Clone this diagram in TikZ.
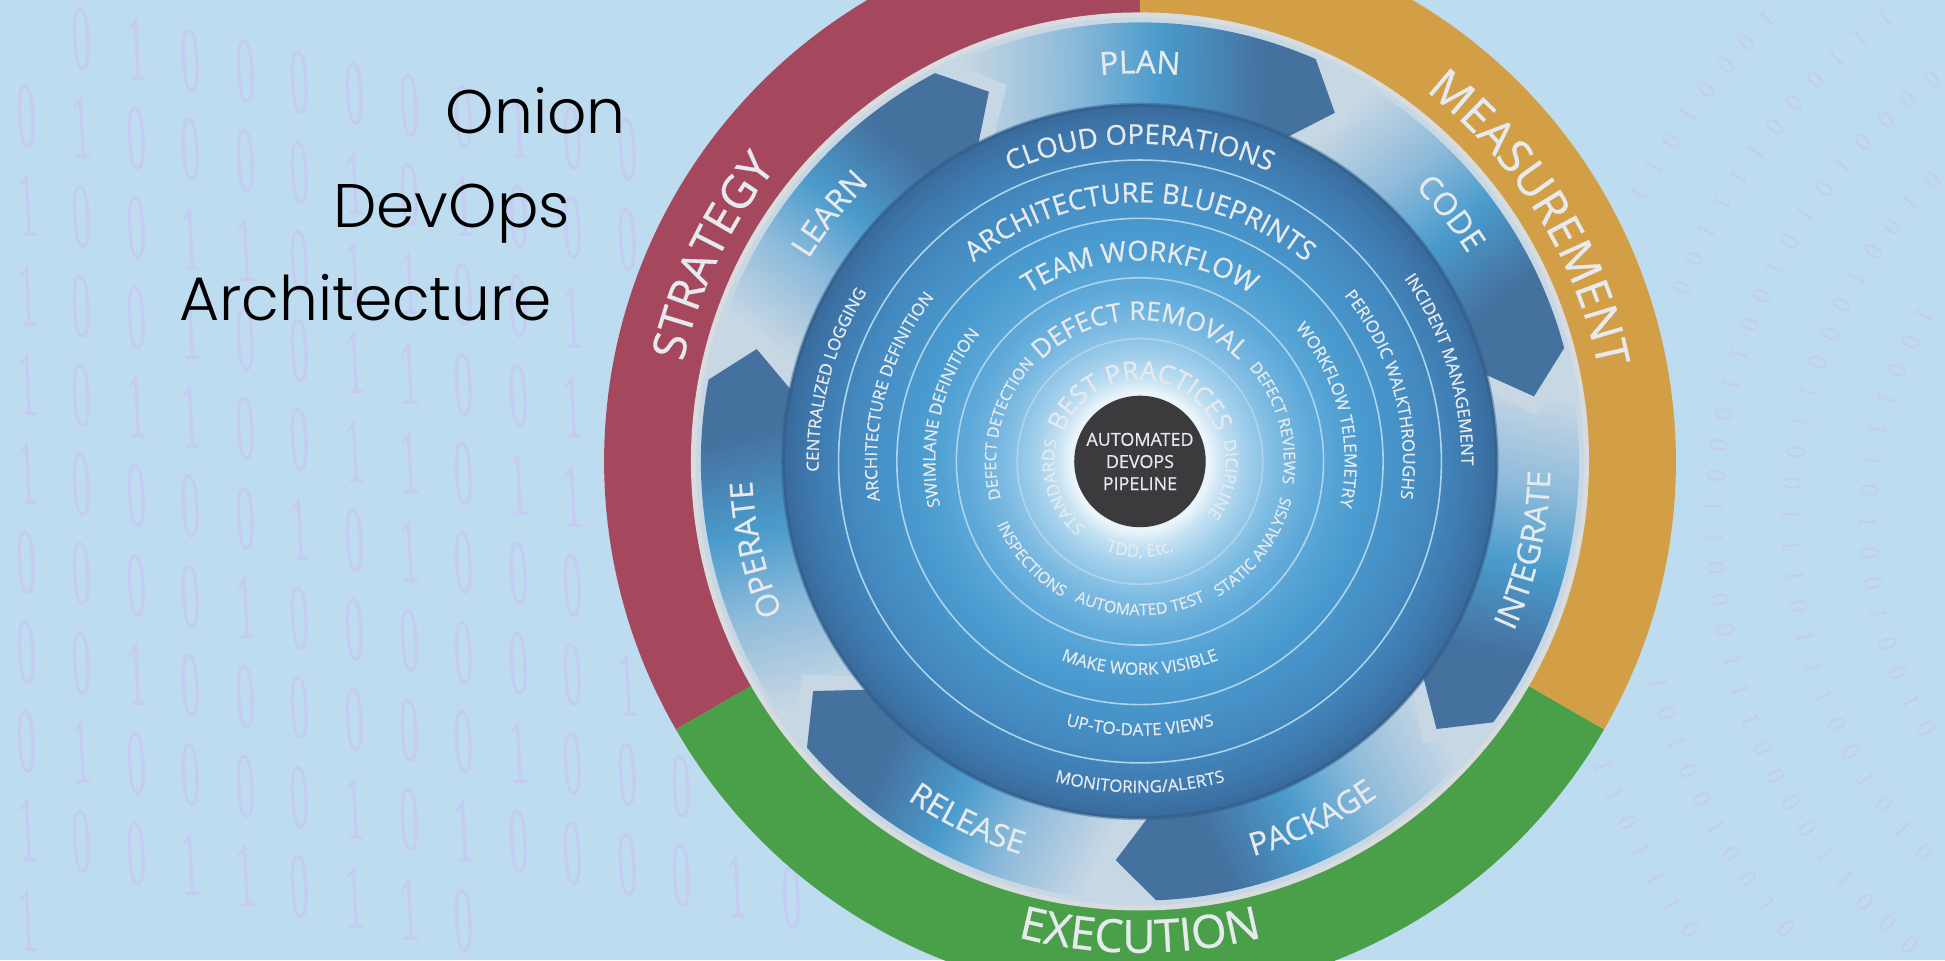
\documentclass[tikz,border=0pt]{standalone}
\usepackage{fontspec}
\setmainfont{Open Sans}
\newfontfamily\lblfont{Open Sans}[FakeBold=0.7]
\newfontfamily\titlefont{Poppins Light}
\newfontfamily\binfont{Liberation Serif}
\usetikzlibrary{decorations.text}

% palette
\definecolor{bgblue}{HTML}{BEDCF0}
\definecolor{digit}{HTML}{C6CBF2}
\definecolor{strat}{HTML}{A5485E}
\definecolor{meas}{HTML}{D29F47}
\definecolor{execgreen}{HTML}{4A9F49}
\definecolor{ringgray}{HTML}{D9DCDF}
\definecolor{annulus}{HTML}{C8D7E4}
\definecolor{labelwhite}{HTML}{E6EAEE}
\definecolor{core}{HTML}{3B3B3D}
\definecolor{arrowpale}{HTML}{C9D8E5}
\definecolor{arrowlight}{HTML}{8EBBDA}
\definecolor{arrowmid}{HTML}{4A9BCC}
\definecolor{arrowdark}{HTML}{45719F}
\definecolor{ringline}{HTML}{AFD4EC}
\definecolor{disk0}{HTML}{F7FBFE}
\definecolor{disk1}{HTML}{EAF4FA}
\definecolor{disk2}{HTML}{C3E1F3}
\definecolor{disk3}{HTML}{A2CFEB}
\definecolor{disk4}{HTML}{7DBBE2}
\definecolor{disk5}{HTML}{5EA9D9}
\definecolor{disk6}{HTML}{4A9BCF}
\definecolor{disk7}{HTML}{448AC1}
\definecolor{disk8}{HTML}{3E79AE}
\definecolor{disk9}{HTML}{396A9B}

% arrow body: pale tail -> bright middle -> dark head
\pgfdeclarehorizontalshading{arrowshade}{100bp}{color(0bp)=(arrowpale); color(25bp)=(arrowpale);
  color(40bp)=(arrowlight); color(52bp)=(arrowmid); color(66bp)=(arrowdark); color(100bp)=(arrowdark)}
% inner disk: white glow around the core fading to deep blue at the rim
\pgfdeclareradialshading{diskshade}{\pgfpoint{0bp}{0bp}}{color(0bp)=(disk0); color(4.86bp)=(disk1);
  color(5.9bp)=(disk2); color(7.4bp)=(disk3); color(9.5bp)=(disk4); color(12.2bp)=(disk5);
  color(15.6bp)=(disk6); color(20bp)=(disk7); color(23bp)=(disk8); color(25bp)=(disk9); color(50bp)=(disk9)}

% curved labels: centre angle, baseline radius, font size, text
\newcommand{\cwlabel}[4]{%
  \path[decorate, decoration={text along path, text align=center,
    text={|\lblfont\fontsize{#3}{#3}\selectfont\color{labelwhite}|#4}}]
    ({#1+100}:#2) arc[start angle={#1+100}, end angle={#1-100}, radius=#2];}
\newcommand{\ccwlabel}[4]{%
  \path[decorate, decoration={text along path, text align=center,
    text={|\lblfont\fontsize{#3}{#3}\selectfont\color{labelwhite}|#4}}]
    ({#1-100}:#2) arc[start angle={#1-100}, end angle={#1+100}, radius=#2];}

\tikzset{
  bigdigit/.style={font=\binfont\fontsize{14}{14}\selectfont, text=digit, inner sep=0pt,
    xscale=0.8, yscale=1.9, xslant=-0.12},
  smalldigit/.style={font=\binfont\fontsize{7.5}{7.5}\selectfont, text=digit, inner sep=0pt},
  titletext/.style={font=\titlefont\fontsize{17.5}{17.5}\selectfont, text=black, inner sep=0pt, anchor=base east},
  thinring/.style={draw=ringline, line width=0.45pt},
}

\begin{document}
\begin{tikzpicture}[x=0.012404cm, y=0.012404cm]
\useasboundingbox (0,0) rectangle (1568,774);
\clip (0,0) rectangle (1568,774);
\fill[bgblue] (0,0) rectangle (1568,774);

% binary rain on the left (only where the wheel does not cover it)
\foreach \c in {0,...,14}{
  \foreach \r in {0,...,10}{
    \pgfmathtruncatemacro\bit{mod(3*\c*\c+7*\r+5*\c*\r+\r*\r+2*\c+40,7)<3}
    \pgfmathsetmacro\xx{22+44*\c}
    \pgfmathsetmacro\yy{774-(22+72*\r+9*\c)}
    \pgfmathsetmacro\dd{veclen(\xx-919,\yy-402)}
    \pgfmathtruncatemacro\keep{(\dd>445)&&(\yy>30)&&(\yy<744)}
    \ifnum\keep=1
      \node[bigdigit] (bin-\c-\r) at (\xx,\yy) {\bit};
    \fi
  }
}
% binary streams on the right
\begin{scope}[shift={(1830,354)}]
\foreach \k in {0,...,6}{
  \pgfmathsetmacro\R{200+62*\k}
  \pgfmathsetmacro\dstep{25/\R*57.2958}
  \pgfmathtruncatemacro\n{150/\dstep}
  \foreach \j in {0,...,\n}{
    \pgfmathsetmacro\ph{105+\j*\dstep}
    \pgfmathsetmacro\rot{\ph+90}
    \pgfmathsetmacro\ax{1830+\R*cos(\ph)}
    \pgfmathsetmacro\ay{354+\R*sin(\ph)}
    \pgfmathsetmacro\dd{veclen(\ax-919,\ay-402)}
    \pgfmathtruncatemacro\keep{(\dd>445)&&(\ay>10)&&(\ay<764)&&(\ax<1560)}
    \ifnum\keep=1
      \pgfmathtruncatemacro\bit{mod(13*\j+7*\k+3*mod(\j*\j,17),11)<5}
      \node[smalldigit, rotate=\rot] (arcbit-\k-\j) at (\ph:\R) {\bit};
    \fi
  }
}
\end{scope}

% title
\node[titletext] (title-onion) at (505,666) {Onion};
\node[titletext] (title-devops) at (460,591) {DevOps};
\node[titletext] (title-arch) at (445,516) {Architecture};

\begin{scope}[shift={(919,402)}]
  % outer ring in three sectors
  \fill[strat] (0,0) -- (90:432) arc[start angle=90, end angle=210, radius=432] -- cycle;
  \fill[execgreen] (0,0) -- (210:432) arc[start angle=210, end angle=330, radius=432] -- cycle;
  \fill[meas] (0,0) -- (-30:432) arc[start angle=-30, end angle=90, radius=432] -- cycle;
  \fill[ringgray] (0,0) circle[radius=362];
  \fill[annulus] (0,0) circle[radius=358];

  % seven clockwise process arrows
  \foreach \k in {0,...,6}{
    \pgfmathsetmacro\sh{66.4-51.4286*\k}
    \pgfmathsetmacro\ta{\sh+51.4286-2.8}
    \pgfmathsetmacro\tp{\sh-5.6}
    \pgfmathsetmacro\nt{\ta-5.6}
    \pgfmathsetmacro\sa{(\ta+\sh)/2-90}
    \shade[shading=arrowshade, shading angle=\sa]
      (\ta:354) arc[start angle=\ta, end angle=\sh, radius=354]
      -- (\tp:322) -- (\sh:282)
      arc[start angle=\sh, end angle=\ta, radius=282] -- (\nt:322) -- cycle;
  }

  % inner disk with its layer rings
  \shade[shading=diskshade] (0,0) circle[radius=288];
  \draw[disk9!85!black, line width=1.2pt, opacity=0.45] (0,0) circle[radius=287.5];
  \foreach \rr in {99,148,196,243}{\draw[thinring] (0,0) circle[radius=\rr];}
  \fill[core] (0,0) circle[radius=53];
  \node[align=center, text=labelwhite, font=\lblfont\fontsize{5.1}{6.3}\selectfont, inner sep=0pt]
    (core-label) at (0,0) {AUTOMATED\\DEVOPS\\PIPELINE};

  % outer ring labels
  \cwlabel{154.4}{377}{13}{STRATEGY}
  \cwlabel{31.9}{377}{13}{MEASUREMENT}
  \ccwlabel{270}{396}{13}{EXECUTION}

  % arrow labels
  \cwlabel{90}{313}{9}{PLAN}
  \cwlabel{38.6}{313}{9}{CODE}
  \ccwlabel{-12.9}{331}{9}{INTEGRATE}
  \ccwlabel{-64.3}{331}{9}{PACKAGE}
  \ccwlabel{-115.7}{331}{9}{RELEASE}
  \cwlabel{192.9}{313}{9}{OPERATE}
  \cwlabel{141.4}{313}{9}{LEARN}

  % layer titles
  \cwlabel{90}{256}{7.8}{CLOUD OPERATIONS}
  \cwlabel{90}{209}{7.8}{ARCHITECTURE BLUEPRINTS}
  \cwlabel{90}{162}{7.8}{TEAM WORKFLOW}
  \cwlabel{90}{114}{7.4}{DEFECT REMOVAL}
  \cwlabel{90}{66}{7.4}{BEST PRACTICES}

  % layer details, left and right
  \cwlabel{165}{259}{4.8}{CENTRALIZED LOGGING}
  \cwlabel{165}{212}{4.8}{ARCHITECTURE DEFINITION}
  \cwlabel{167}{165}{4.8}{SWIMLANE DEFINITION}
  \cwlabel{166}{116}{4.5}{DEFECT DETECTION}
  \cwlabel{198}{69}{4.8}{STANDARDS}
  \cwlabel{17}{259}{4.8}{INCIDENT MANAGEMENT}
  \cwlabel{15.5}{212}{4.8}{PERIODIC WALKTHROUGHS}
  \cwlabel{14}{165}{4.8}{WORKFLOW TELEMETRY}
  \cwlabel{16}{116}{4.5}{DEFECT REVIEWS}
  \cwlabel{-12}{69}{4.8}{DICIPLINE}

  % layer details, bottom
  \ccwlabel{270}{267}{4.8}{MONITORING/ALERTS}
  \ccwlabel{270}{221}{4.8}{UP-TO-DATE VIEWS}
  \ccwlabel{270}{172}{4.8}{MAKE WORK VISIBLE}
  \ccwlabel{270}{124}{4.5}{AUTOMATED TEST}
  \ccwlabel{222}{126}{4.5}{INSPECTIONS}
  \ccwlabel{323}{126}{4.5}{STATIC ANALYSIS}
  \ccwlabel{270}{77}{4.8}{TDD, Etc.}
\end{scope}
\end{tikzpicture}
\end{document}
